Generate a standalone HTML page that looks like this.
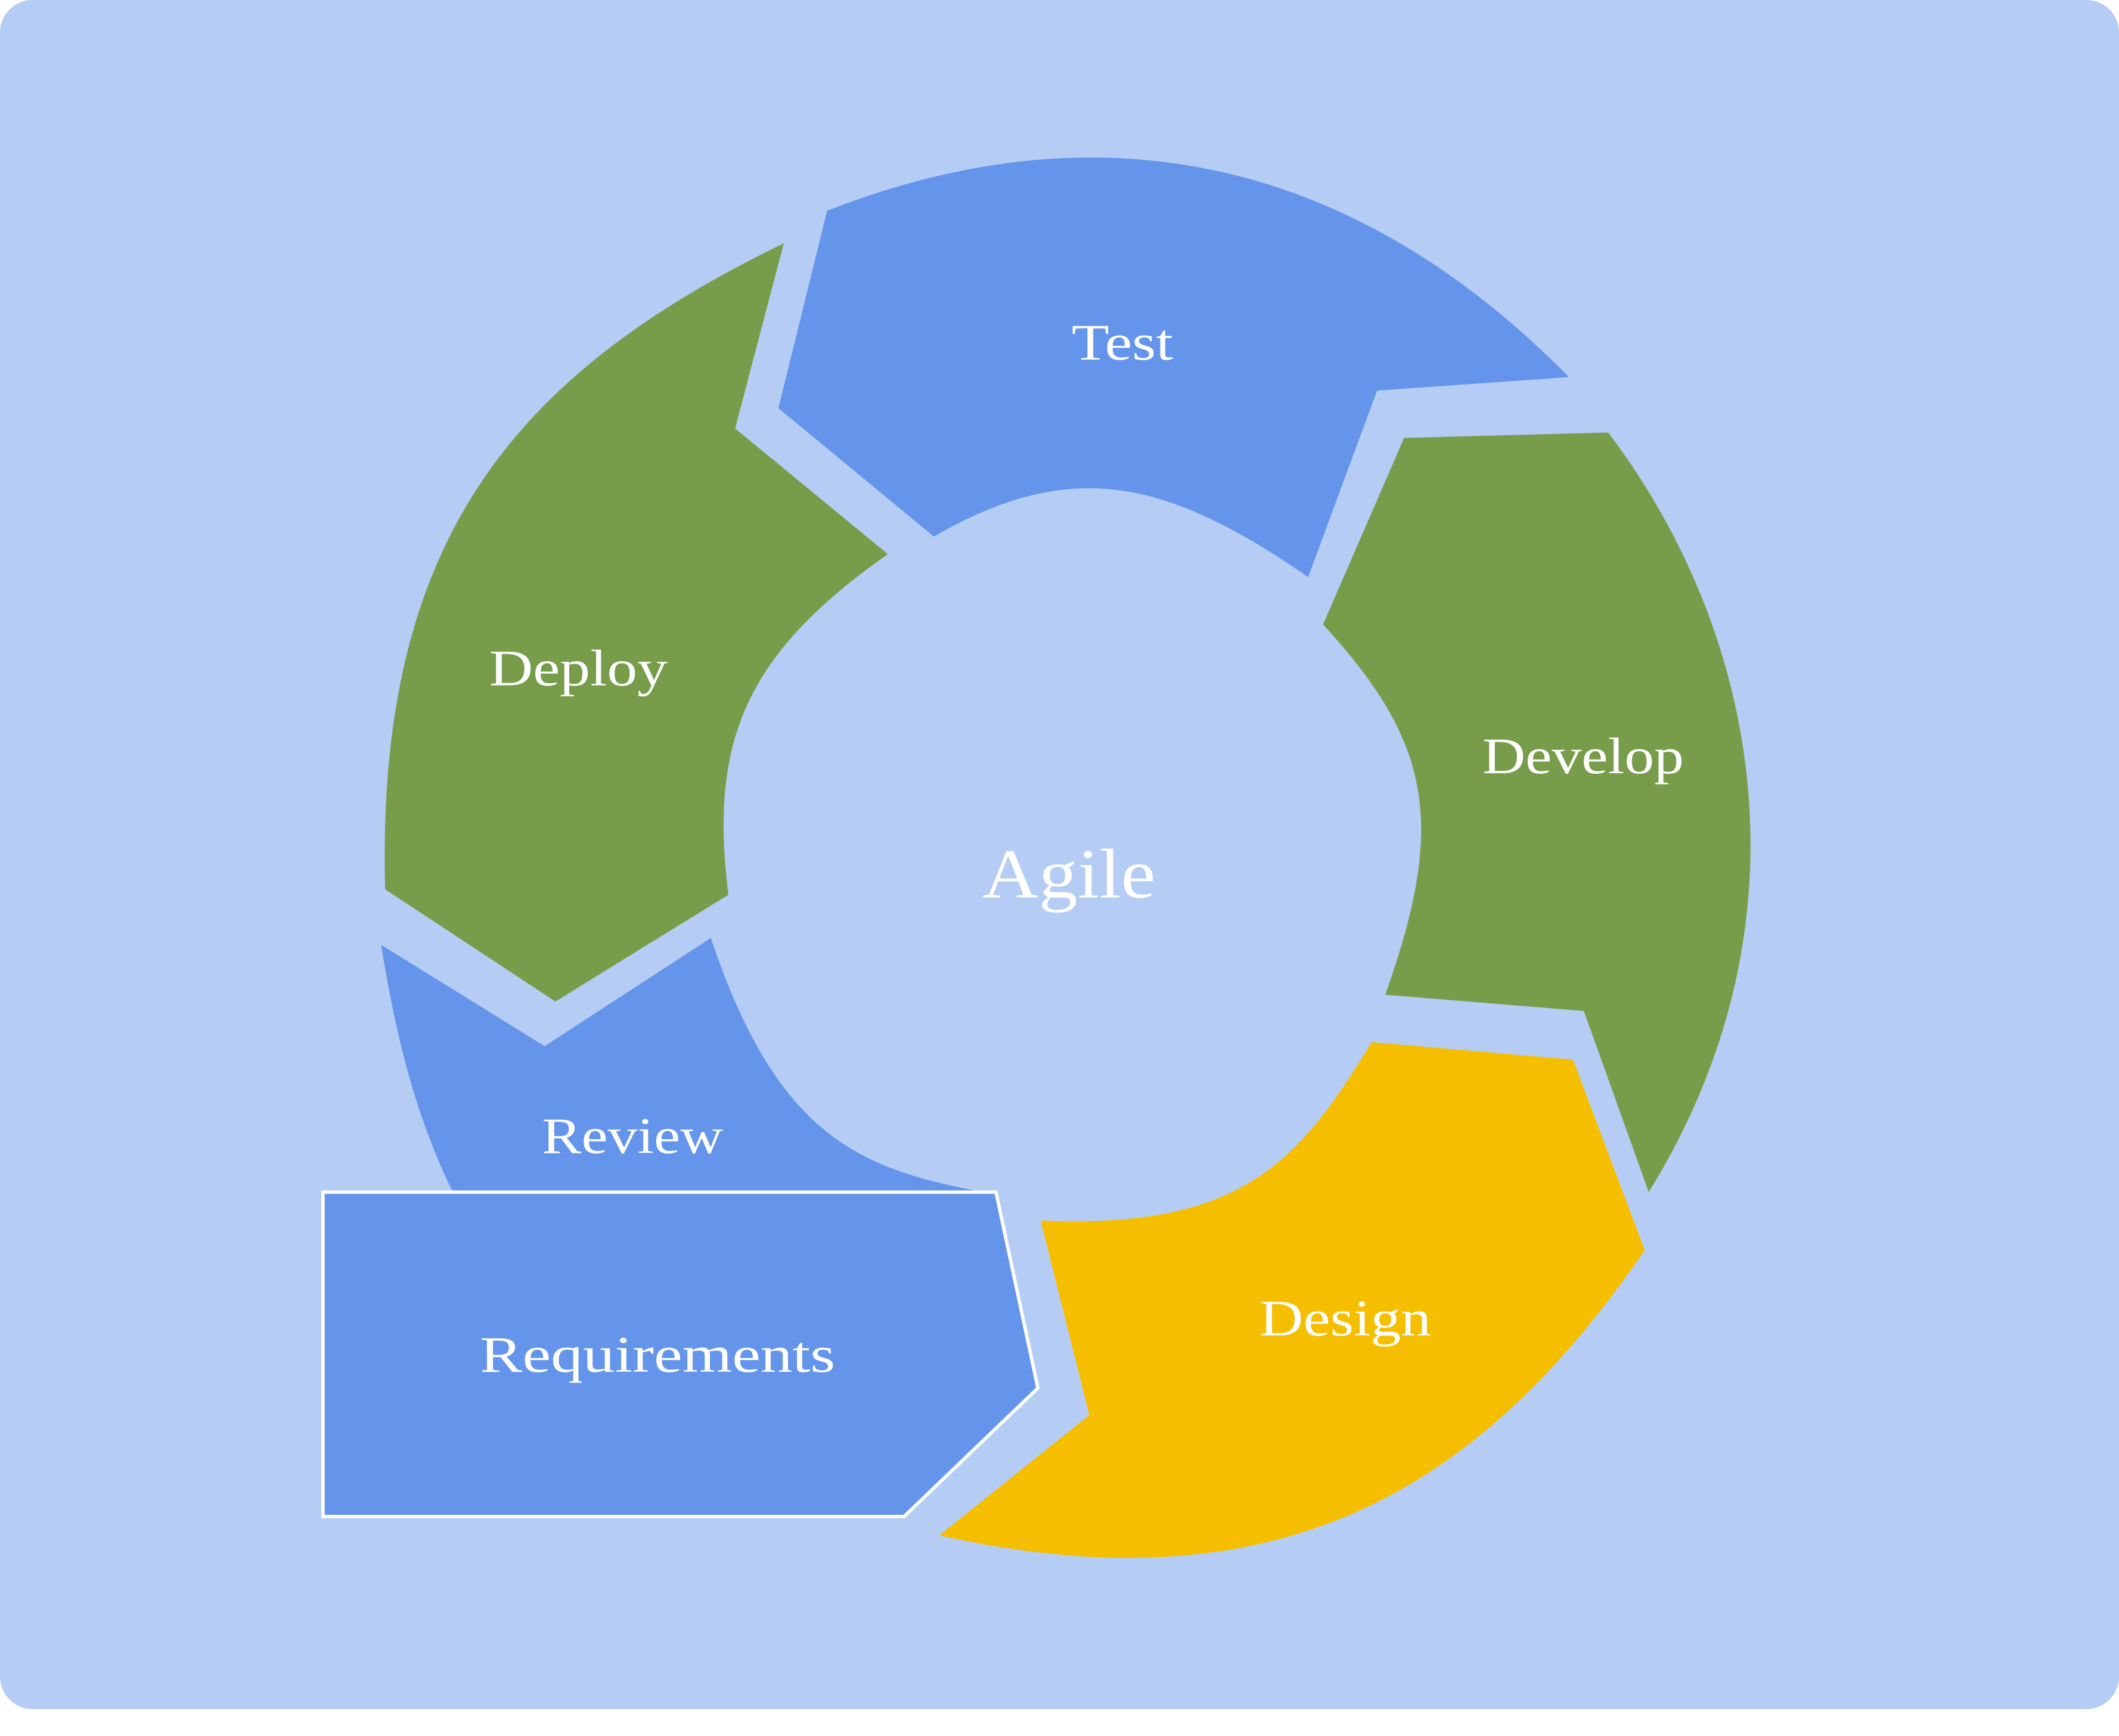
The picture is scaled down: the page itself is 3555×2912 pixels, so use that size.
<!DOCTYPE html>
<html>
<head>
<meta charset="utf-8">
<style>
  html,body{margin:0;padding:0;background:#ffffff;}
  svg{display:block;}
  text{font-family:"Liberation Serif",serif;fill:#ffffff;}
</style>
</head>
<body>
<svg width="3555" height="2912" viewBox="0 0 1568 1284.4" preserveAspectRatio="none" xmlns="http://www.w3.org/2000/svg">
  <rect x="0" y="0" width="1568" height="1264.5" rx="24" ry="24" fill="#b5cdf5"/>
  <path d="M612,156 C805,80 995,110 1161,279 L1019,289 L968,427 C860,352 790,340 691,397 L576,302 Z" fill="#6595ea"/>
  <path d="M1039,324 L1190,320 C1300,465 1345,680 1220,882 L1172,748 L1025,736 C1070,610 1060,550 979,462 Z" fill="#789d4a"/>
  <path d="M1015,771 L1164,784 L1217,925 C1090,1110 940,1190 695,1136 L806,1047 L770,903 C920,910 962,858 1015,771 Z" fill="#f5bf00"/>
  <path d="M282,699 L403,774 L526,694 C575,840 635,865 728,882 L335,882 C305,820 292,760 282,699 Z" fill="#6595ea"/>
  <path d="M580,180 L544,317 L657,410 C550,485 525,550 539,662 L411,741 L285,658 C278,400 380,277 580,180 Z" fill="#789d4a"/>
  <path d="M239,882 L737,882 L768,1027 L669,1122 L239,1122 Z" fill="#6595ea" stroke="#ffffff" stroke-width="2.5"/>

  <text x="793" y="266" font-size="38" textLength="75" lengthAdjust="spacingAndGlyphs">Test</text>
  <text x="362" y="507" font-size="38" textLength="132" lengthAdjust="spacingAndGlyphs">Deploy</text>
  <text x="1097" y="572" font-size="38" textLength="149" lengthAdjust="spacingAndGlyphs">Develop</text>
  <text x="727" y="664" font-size="52" textLength="128" lengthAdjust="spacingAndGlyphs">Agile</text>
  <text x="401" y="853" font-size="38" textLength="134" lengthAdjust="spacingAndGlyphs">Review</text>
  <text x="932" y="988" font-size="38" textLength="127" lengthAdjust="spacingAndGlyphs">Design</text>
  <text x="355" y="1015" font-size="38" textLength="263" lengthAdjust="spacingAndGlyphs">Requirements</text>
</svg>
</body>
</html>
